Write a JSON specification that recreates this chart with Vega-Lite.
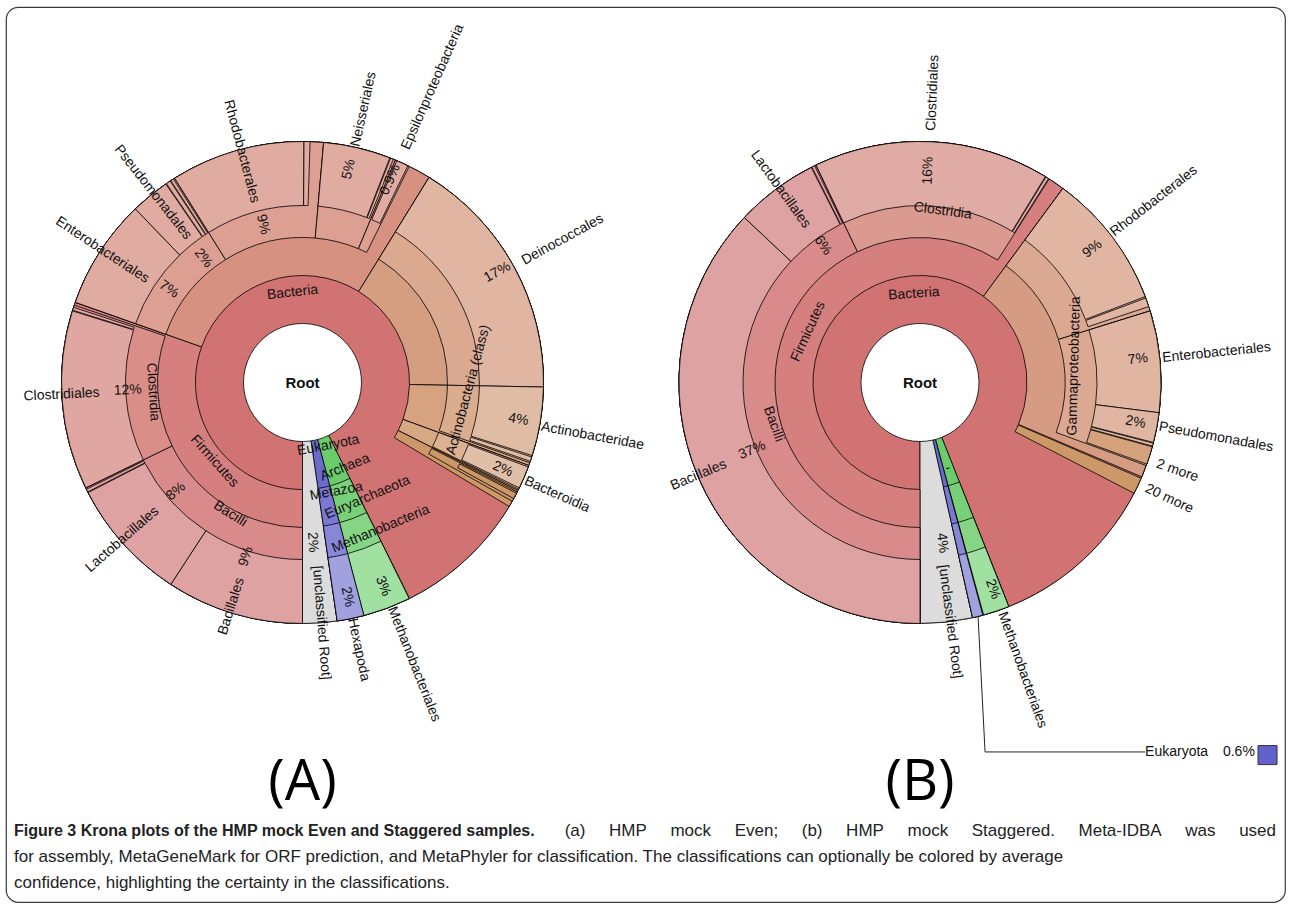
{
  "$schema": "https://vega.github.io/schema/vega-lite/v6.json",
  "width": 1290,
  "height": 905,
  "autosize": {"type": "fit", "contains": "padding"},
  "padding": {"left": 6, "top": 7, "right": 5, "bottom": 3},
  "background": "white",
  "config": {
    "view": {"stroke": "#3a3a3a", "strokeWidth": 1.2, "cornerRadius": 12},
    "text": {"font": "Liberation Sans"}
  },
  "datasets": {
    "nodes": [
      {"panel": "A", "id": "Root", "depth": 0, "outer": 5, "s": 0, "e": 100, "c": "root"},
      {"panel": "A", "id": "Bacteria", "depth": 1, "outer": 5, "s": 0, "e": 92.7, "c": "bac1"},
      {"panel": "A", "id": "Archaea", "depth": 1, "outer": 5, "s": 92.7, "e": 95.9, "c": "arc1"},
      {"panel": "A", "id": "Eukaryota", "depth": 1, "outer": 5, "s": 95.9, "e": 97.7, "c": "euk1"},
      {"panel": "A", "id": "[unclassified Root]", "depth": 1, "outer": 5, "s": 97.7, "e": 100, "c": "unc"},
      {"panel": "A", "id": "Firmicutes", "depth": 2, "outer": 5, "s": 0, "e": 30.4, "c": "fir2"},
      {"panel": "A", "id": "Proteobacteria", "depth": 2, "outer": 5, "s": 30.4, "e": 58.8, "c": "pro2"},
      {"panel": "A", "id": "Deinococcus-Thermus", "depth": 2, "outer": 5, "s": 58.8, "e": 75.3, "c": "dei2"},
      {"panel": "A", "id": "Actinobacteria", "depth": 2, "outer": 5, "s": 75.3, "e": 80.6, "c": "act2"},
      {"panel": "A", "id": "Bacteroidetes", "depth": 2, "outer": 5, "s": 80.6, "e": 82.4, "c": "bct2"},
      {"panel": "A", "id": "other phyla", "depth": 2, "outer": 5, "s": 82.4, "e": 83.6, "c": "hat"},
      {"panel": "A", "id": "Euryarchaeota", "depth": 2, "outer": 5, "s": 92.7, "e": 95.9, "c": "arc2"},
      {"panel": "A", "id": "Metazoa", "depth": 2, "outer": 5, "s": 95.9, "e": 97.7, "c": "euk2"},
      {"panel": "A", "id": "Bacilli", "depth": 3, "outer": 5, "s": 0, "e": 17.8, "c": "fir3"},
      {"panel": "A", "id": "Clostridia", "depth": 3, "outer": 5, "s": 17.8, "e": 30.2, "c": "clo3"},
      {"panel": "A", "id": "Gammaproteobacteria", "depth": 3, "outer": 5, "s": 30.4, "e": 41.1, "c": "pro3"},
      {"panel": "A", "id": "Alphaproteobacteria", "depth": 3, "outer": 5, "s": 41.1, "e": 51.4, "c": "pro3"},
      {"panel": "A", "id": "Betaproteobacteria", "depth": 3, "outer": 5, "s": 51.4, "e": 56.3, "c": "pro3"},
      {"panel": "A", "id": "Epsilonproteobacteria", "depth": 3, "outer": 5, "s": 56.3, "e": 57.3, "c": "pro3"},
      {"panel": "A", "id": "Deinococci", "depth": 3, "outer": 5, "s": 58.8, "e": 75.3, "c": "dei3"},
      {"panel": "A", "id": "Actinobacteria (class)", "depth": 3, "outer": 5, "s": 75.3, "e": 80.4, "c": "act3"},
      {"panel": "A", "id": "Bacteroidia", "depth": 3, "outer": 5, "s": 80.6, "e": 82.3, "c": "bct3"},
      {"panel": "A", "id": "other classes", "depth": 3, "outer": 5, "s": 82.5, "e": 83.2, "c": "hat"},
      {"panel": "A", "id": "Methanobacteria", "depth": 3, "outer": 5, "s": 92.7, "e": 95.9, "c": "arc3"},
      {"panel": "A", "id": "-", "depth": 3, "outer": 5, "s": 95.9, "e": 97.7, "c": "euk3"},
      {"panel": "A", "id": "Bacillales", "depth": 4, "outer": 5, "s": 0, "e": 9.2, "c": "fir4"},
      {"panel": "A", "id": "Lactobacillales", "depth": 4, "outer": 5, "s": 9.2, "e": 17.45, "c": "fir4"},
      {"panel": "A", "id": "other Bacilli", "depth": 4, "outer": 5, "s": 17.5, "e": 17.7, "c": "fir4"},
      {"panel": "A", "id": "Clostridiales", "depth": 4, "outer": 5, "s": 17.8, "e": 29.8, "c": "clo4"},
      {"panel": "A", "id": "other Clostridia", "depth": 4, "outer": 5, "s": 29.85, "e": 30.05, "c": "clo4"},
      {"panel": "A", "id": "Enterobacteriales", "depth": 4, "outer": 5, "s": 30.4, "e": 37.8, "c": "pro4"},
      {"panel": "A", "id": "Pseudomonadales", "depth": 4, "outer": 5, "s": 37.8, "e": 40.4, "c": "pro4"},
      {"panel": "A", "id": "other Gamma", "depth": 4, "outer": 5, "s": 40.45, "e": 40.75, "c": "pro4"},
      {"panel": "A", "id": "other Gamma 2", "depth": 4, "outer": 5, "s": 40.8, "e": 41.0, "c": "pro4"},
      {"panel": "A", "id": "Rhodobacterales", "depth": 4, "outer": 5, "s": 41.1, "e": 50.1, "c": "pro4"},
      {"panel": "A", "id": "other Alpha", "depth": 4, "outer": 5, "s": 50.1, "e": 50.5, "c": "pro4"},
      {"panel": "A", "id": "Neisseriales", "depth": 4, "outer": 5, "s": 51.4, "e": 55.9, "c": "pro4"},
      {"panel": "A", "id": "other Beta", "depth": 4, "outer": 5, "s": 55.95, "e": 56.15, "c": "pro4"},
      {"panel": "A", "id": "Campylobacterales", "depth": 4, "outer": 5, "s": 56.4, "e": 57.2, "c": "pro4"},
      {"panel": "A", "id": "Deinococcales", "depth": 4, "outer": 5, "s": 58.8, "e": 75.3, "c": "dei4"},
      {"panel": "A", "id": "Actinobacteridae", "depth": 4, "outer": 5, "s": 75.3, "e": 79.9, "c": "act4"},
      {"panel": "A", "id": "other Actinobacteria", "depth": 4, "outer": 5, "s": 80.0, "e": 80.3, "c": "act4"},
      {"panel": "A", "id": "Bacteroidales", "depth": 4, "outer": 5, "s": 80.7, "e": 82.2, "c": "bct4"},
      {"panel": "A", "id": "other orders", "depth": 4, "outer": 5, "s": 82.6, "e": 83.0, "c": "hat"},
      {"panel": "A", "id": "Methanobacteriales", "depth": 4, "outer": 5, "s": 92.7, "e": 95.9, "c": "arc4"},
      {"panel": "A", "id": "Hexapoda", "depth": 4, "outer": 5, "s": 95.9, "e": 97.7, "c": "euk4"},

      {"panel": "B", "id": "Root", "depth": 0, "outer": 5, "s": 0, "e": 100, "c": "root"},
      {"panel": "B", "id": "Bacteria", "depth": 1, "outer": 5, "s": 0, "e": 94.0, "c": "bac1"},
      {"panel": "B", "id": "Archaea", "depth": 1, "outer": 5, "s": 94.0, "e": 95.75, "c": "arc1"},
      {"panel": "B", "id": "Eukaryota", "depth": 1, "outer": 5, "s": 95.8, "e": 96.5, "c": "euk1"},
      {"panel": "B", "id": "[unclassified Root]", "depth": 1, "outer": 5, "s": 96.5, "e": 100, "c": "unc"},
      {"panel": "B", "id": "Firmicutes", "depth": 2, "outer": 5, "s": 0, "e": 60.1, "c": "fir2"},
      {"panel": "B", "id": "Proteobacteria", "depth": 2, "outer": 5, "s": 60.1, "e": 81.4, "c": "Bpro2"},
      {"panel": "B", "id": "20 more", "depth": 2, "outer": 5, "s": 81.5, "e": 82.6, "c": "hat"},
      {"panel": "B", "id": "Euryarchaeota", "depth": 2, "outer": 5, "s": 94.0, "e": 95.75, "c": "arc2"},
      {"panel": "B", "id": "Metazoa", "depth": 2, "outer": 5, "s": 95.8, "e": 96.5, "c": "euk2"},
      {"panel": "B", "id": "Bacilli", "depth": 3, "outer": 5, "s": 0, "e": 42.9, "c": "fir3"},
      {"panel": "B", "id": "Clostridia", "depth": 3, "outer": 5, "s": 42.9, "e": 59.0, "c": "Bclo3"},
      {"panel": "B", "id": "Alphaproteobacteria", "depth": 3, "outer": 5, "s": 60.1, "e": 70.2, "c": "Bpro3"},
      {"panel": "B", "id": "Gammaproteobacteria", "depth": 3, "outer": 5, "s": 70.2, "e": 80.6, "c": "Bpro3"},
      {"panel": "B", "id": "Methanobacteria", "depth": 3, "outer": 5, "s": 94.0, "e": 95.75, "c": "arc3"},
      {"panel": "B", "id": "-", "depth": 3, "outer": 5, "s": 95.8, "e": 96.5, "c": "euk3"},
      {"panel": "B", "id": "Bacillales", "depth": 4, "outer": 5, "s": 0, "e": 37.0, "c": "fir4"},
      {"panel": "B", "id": "Lactobacillales", "depth": 4, "outer": 5, "s": 37.0, "e": 42.55, "c": "fir4"},
      {"panel": "B", "id": "other Bacilli", "depth": 4, "outer": 5, "s": 42.6, "e": 42.8, "c": "fir4"},
      {"panel": "B", "id": "Clostridiales", "depth": 4, "outer": 5, "s": 42.9, "e": 58.7, "c": "Bclo4"},
      {"panel": "B", "id": "other Clostridia", "depth": 4, "outer": 5, "s": 58.75, "e": 58.95, "c": "Bclo4"},
      {"panel": "B", "id": "Rhodobacterales", "depth": 4, "outer": 5, "s": 60.1, "e": 69.2, "c": "Bpro4"},
      {"panel": "B", "id": "other Alpha", "depth": 4, "outer": 5, "s": 69.3, "e": 69.9, "c": "Bpro4"},
      {"panel": "B", "id": "Enterobacteriales", "depth": 4, "outer": 5, "s": 70.2, "e": 77.0, "c": "Bpro4"},
      {"panel": "B", "id": "Pseudomonadales", "depth": 4, "outer": 5, "s": 77.0, "e": 79.0, "c": "Bpro4"},
      {"panel": "B", "id": "other Gamma", "depth": 4, "outer": 5, "s": 79.05, "e": 79.25, "c": "Bpro4"},
      {"panel": "B", "id": "2 more", "depth": 4, "outer": 5, "s": 79.3, "e": 80.5, "c": "hat2"},
      {"panel": "B", "id": "Methanobacteriales", "depth": 4, "outer": 5, "s": 94.0, "e": 95.75, "c": "arc4"},
      {"panel": "B", "id": "-", "depth": 4, "outer": 5, "s": 95.8, "e": 96.5, "c": "euk4"}
    ],
    "labels": [
      {"panel": "A", "kind": "t", "txt": "Bacteria", "p": 48.25, "r": 37.6, "o": 48.25},
      {"panel": "A", "kind": "t", "txt": "Firmicutes", "p": 13.4, "r": 49.0, "o": 13.4},
      {"panel": "A", "kind": "t", "txt": "Bacilli", "p": 8.0, "r": 62.2, "o": 9.0},
      {"panel": "A", "kind": "t", "txt": "Clostridia", "p": 24.0, "r": 62.2, "o": 24.0},
      {"panel": "A", "kind": "t", "txt": "Actinobacteria (class)", "p": 75.7, "r": 68.9, "o": 79.2},
      {"panel": "A", "kind": "t", "txt": "Eukaryota", "p": 93.8, "r": 28.2, "o": 97.0},
      {"panel": "A", "kind": "t", "txt": "Archaea", "p": 92.6, "r": 39.4, "o": 94.0},
      {"panel": "A", "kind": "t", "txt": "Metazoa", "p": 95.2, "r": 47.3, "o": 97.1},
      {"panel": "A", "kind": "t", "txt": "Euryarchaeota", "p": 91.8, "r": 54.8, "o": 93.6},
      {"panel": "A", "kind": "t", "txt": "Methanobacteria", "p": 92.2, "r": 68.9, "o": 93.7},
      {"panel": "A", "kind": "r", "txt": "Clostridiales", "p": 24.2, "r": 100.1, "o": 24.2},
      {"panel": "A", "kind": "r", "txt": "12%", "p": 24.3, "r": 72.6, "o": 24.3},
      {"panel": "A", "kind": "r", "txt": "Lactobacillales", "p": 13.6, "r": 99.2, "o": 13.6},
      {"panel": "A", "kind": "r", "txt": "8%", "p": 13.7, "r": 69.3, "o": 13.7},
      {"panel": "A", "kind": "r", "txt": "Bacillales", "p": 4.9, "r": 97.5, "o": 4.9},
      {"panel": "A", "kind": "r", "txt": "9%", "p": 5.0, "r": 75.9, "o": 5.0},
      {"panel": "A", "kind": "r", "txt": "Enterobacteriales", "p": 34.3, "r": 99.6, "o": 34.3},
      {"panel": "A", "kind": "r", "txt": "7%", "p": 34.7, "r": 67.6, "o": 34.7},
      {"panel": "A", "kind": "r", "txt": "Pseudomonadales", "p": 39.4, "r": 100.4, "o": 39.4},
      {"panel": "A", "kind": "r", "txt": "2%", "p": 39.3, "r": 66.0, "o": 39.3},
      {"panel": "A", "kind": "r", "txt": "Rhodobacterales", "p": 45.9, "r": 99.2, "o": 45.9},
      {"panel": "A", "kind": "r", "txt": "9%", "p": 46.1, "r": 67.6, "o": 46.1},
      {"panel": "A", "kind": "r", "txt": "Neisseriales", "p": 53.5, "r": 116.2, "o": 53.5},
      {"panel": "A", "kind": "r", "txt": "5%", "p": 53.4, "r": 90.5, "o": 53.4},
      {"panel": "A", "kind": "r", "txt": "Epsilonproteobacteria", "p": 56.6, "r": 134.0, "o": 56.6},
      {"panel": "A", "kind": "r", "txt": "0.9%", "p": 56.5, "r": 91.7, "o": 56.5},
      {"panel": "A", "kind": "r", "txt": "Deinococcales", "p": 67.0, "r": 123.2, "o": 67.0},
      {"panel": "A", "kind": "r", "txt": "17%", "p": 66.8, "r": 92.9, "o": 66.8},
      {"panel": "A", "kind": "r", "txt": "Actinobacteridae", "p": 77.9, "r": 122.4, "o": 77.9},
      {"panel": "A", "kind": "r", "txt": "4%", "p": 77.7, "r": 90.9, "o": 77.7},
      {"panel": "A", "kind": "r", "txt": "Bacteroidia", "p": 81.6, "r": 115.4, "o": 81.6},
      {"panel": "A", "kind": "r", "txt": "2%", "p": 81.5, "r": 90.5, "o": 81.5},
      {"panel": "A", "kind": "r", "txt": "[unclassified Root]", "p": 98.75, "r": 100.0, "o": 98.75},
      {"panel": "A", "kind": "r", "txt": "2%", "p": 99.0, "r": 66.4, "o": 99.0},
      {"panel": "A", "kind": "r", "txt": "Hexapoda", "p": 96.7, "r": 113.3, "o": 96.7},
      {"panel": "A", "kind": "r", "txt": "2%", "p": 96.7, "r": 90.9, "o": 96.7},
      {"panel": "A", "kind": "r", "txt": "Methanobacteriales", "p": 94.0, "r": 125.7, "o": 94.0},
      {"panel": "A", "kind": "r", "txt": "3%", "p": 94.0, "r": 90.9, "o": 94.0},

      {"panel": "B", "kind": "t", "txt": "Bacteria", "p": 48.9, "r": 36.9, "o": 48.9},
      {"panel": "B", "kind": "t", "txt": "Firmicutes", "p": 31.8, "r": 51.0, "o": 31.8},
      {"panel": "B", "kind": "t", "txt": "Bacilli", "p": 20.6, "r": 63.1, "o": 19.5},
      {"panel": "B", "kind": "t", "txt": "Clostridia", "p": 52.1, "r": 71.8, "o": 52.1},
      {"panel": "B", "kind": "t", "txt": "Gammaproteobacteria", "p": 73.3, "r": 64.3, "o": 75.4},
      {"panel": "B", "kind": "t", "txt": "-", "p": 95.0, "r": 37.3, "o": 94.9},
      {"panel": "B", "kind": "r", "txt": "Clostridiales", "p": 50.7, "r": 120.3, "o": 50.7},
      {"panel": "B", "kind": "r", "txt": "16%", "p": 50.6, "r": 88.0, "o": 50.6},
      {"panel": "B", "kind": "r", "txt": "Lactobacillales", "p": 40.05, "r": 98.8, "o": 40.05},
      {"panel": "B", "kind": "r", "txt": "6%", "p": 40.2, "r": 69.7, "o": 40.2},
      {"panel": "B", "kind": "r", "txt": "Bacillales", "p": 18.7, "r": 99.6, "o": 18.7},
      {"panel": "B", "kind": "r", "txt": "37%", "p": 18.9, "r": 75.1, "o": 18.9},
      {"panel": "B", "kind": "r", "txt": "Rhodobacterales", "p": 64.5, "r": 122.8, "o": 64.5},
      {"panel": "B", "kind": "r", "txt": "9%", "p": 64.5, "r": 90.5, "o": 64.5},
      {"panel": "B", "kind": "r", "txt": "Enterobacteriales", "p": 73.4, "r": 123.7, "o": 73.4},
      {"panel": "B", "kind": "r", "txt": "7%", "p": 73.3, "r": 90.9, "o": 73.3},
      {"panel": "B", "kind": "r", "txt": "Pseudomonadales", "p": 77.9, "r": 124.9, "o": 77.9},
      {"panel": "B", "kind": "r", "txt": "2%", "p": 77.9, "r": 90.9, "o": 77.9},
      {"panel": "B", "kind": "r", "txt": "2 more", "p": 80.25, "r": 112.9, "o": 80.25},
      {"panel": "B", "kind": "r", "txt": "20 more", "p": 81.95, "r": 114.1, "o": 81.95},
      {"panel": "B", "kind": "r", "txt": "Methanobacteriales", "p": 94.55, "r": 126.6, "o": 94.55},
      {"panel": "B", "kind": "r", "txt": "2%", "p": 94.6, "r": 90.9, "o": 94.6},
      {"panel": "B", "kind": "r", "txt": "[unclassified Root]", "p": 98.0, "r": 100.0, "o": 98.0},
      {"panel": "B", "kind": "r", "txt": "4%", "p": 97.8, "r": 67.2, "o": 97.8}
    ],
    "centers": [
      {"panel": "A", "txt": "Root"},
      {"panel": "B", "txt": "Root"}
    ],
    "tags": [
      {"panel": "A", "txt": "(A)", "p": 0, "r": 173.4},
      {"panel": "B", "txt": "(B)", "p": 0, "r": 173.4}
    ],
    "leader": [
      {"k": 1, "cx": 0.241, "cy": 0.973},
      {"k": 2, "cx": 0.270, "cy": 1.533},
      {"k": 3, "cx": 0.934, "cy": 1.533}
    ],
    "callout": [
      {"txt": "Eukaryota", "cx": 0.934, "cy": 1.533},
      {"txt": "0.6%", "cx": 1.257, "cy": 1.533}
    ],
    "swatch": [
      {"name": "Eukaryota", "cx": 1.442, "cy": 1.546}
    ],
    "caption": [
      {"line": 1, "anchor": "L", "w": "b", "txt": "Figure 3 Krona plots of the HMP mock Even and Staggered samples."},
      {"line": 1, "anchor": "R", "w": "n", "txt": "(a)\u00a0\u00a0\u00a0\u00a0 HMP\u00a0\u00a0\u00a0\u00a0 mock\u00a0\u00a0\u00a0\u00a0 Even;\u00a0\u00a0\u00a0\u00a0 (b)\u00a0\u00a0\u00a0\u00a0 HMP\u00a0\u00a0\u00a0\u00a0 mock\u00a0\u00a0\u00a0\u00a0 Staggered.\u00a0\u00a0\u00a0\u00a0 Meta-IDBA\u00a0\u00a0\u00a0\u00a0 was\u00a0\u00a0\u00a0\u00a0 used"},
      {"line": 2, "anchor": "L", "w": "n", "txt": "for assembly, MetaGeneMark for ORF prediction, and MetaPhyler for classification. The classifications can optionally be colored by average"},
      {"line": 3, "anchor": "L", "w": "n", "txt": "confidence, highlighting the certainty in the classifications."}
    ]
  },
  "resolve": {"scale": {"x": "independent", "y": "independent", "theta": "independent", "radius": "independent", "angle": "independent"}},
  "layer": [
    {
      "data": {"name": "nodes"},
      "mark": {"type": "arc", "stroke": "#000000", "strokeWidth": 0.8},
      "encoding": {
        "x": {"field": "panel", "type": "nominal", "axis": null, "scale": {"type": "point", "domain": ["A", "B"], "range": [296.5, 914], "padding": 0}},
        "y": {"field": "panel", "type": "nominal", "axis": null, "scale": {"type": "point", "domain": ["A", "B"], "range": [375.5, 375.5], "padding": 0}},
        "theta": {"field": "s", "type": "quantitative", "scale": {"type": "linear", "domain": [0, 100], "range": [3.14159265, 9.42477796], "zero": false, "nice": false}},
        "theta2": {"field": "e"},
        "radius": {"field": "outer", "type": "quantitative", "scale": {"type": "linear", "domain": [0, 1, 2, 3, 4, 5], "range": [0, 59, 107, 145, 177, 241], "zero": false, "nice": false}},
        "radius2": {"field": "depth"},
        "color": {
          "field": "c", "type": "nominal", "legend": null,
          "scale": {
            "domain": ["root", "unc", "bac1", "fir2", "fir3", "clo3", "fir4", "clo4", "pro2", "pro3", "pro4", "dei2", "dei3", "dei4", "act2", "act3", "act4", "bct2", "bct3", "bct4", "hat", "hat2", "arc1", "arc2", "arc3", "arc4", "euk1", "euk2", "euk3", "euk4", "Bpro2", "Bpro3", "Bpro4", "Bclo3", "Bclo4"],
            "range": ["#ffffff", "#dcdcdc", "#d17373", "#d57f7f", "#d98b8b", "#d98e88", "#dfa2a2", "#e0a7a2", "#d79180", "#dc9f91", "#e0aca1", "#d59e80", "#daa990", "#e0b5a1", "#d6a27f", "#dbad8f", "#e0bca5", "#d7a881", "#dcb292", "#e0bfa8", "#cd9867", "#d6a27c", "#6bcc6b", "#78d078", "#85d585", "#a0e0a0", "#6b6bcf", "#7979d3", "#8787d7", "#a1a1e0", "#d69b83", "#dba892", "#e0b6a2", "#db9a90", "#e0aba4"]
          }
        }
      }
    },
    {
      "data": {"name": "labels"},
      "transform": [{"filter": "datum.kind === 't'"}],
      "mark": {"type": "text", "fontSize": 14, "align": "center", "baseline": "middle", "fill": "#111111"},
      "encoding": {
        "x": {"field": "panel", "type": "nominal", "axis": null, "scale": {"type": "point", "domain": ["A", "B"], "range": [296.5, 914], "padding": 0}},
        "y": {"field": "panel", "type": "nominal", "axis": null, "scale": {"type": "point", "domain": ["A", "B"], "range": [375.5, 375.5], "padding": 0}},
        "theta": {"field": "p", "type": "quantitative", "scale": {"type": "linear", "domain": [0, 100], "range": [3.14159265, 9.42477796], "zero": false, "nice": false}},
        "radius": {"field": "r", "type": "quantitative", "scale": {"type": "linear", "domain": [0, 100], "range": [0, 241], "zero": false, "nice": false}},
        "angle": {"field": "o", "type": "quantitative", "scale": {"type": "linear", "domain": [0, 25, 25.001, 75, 75.001, 100], "range": [0, 90, -89.9964, 90, 270.0036, 360], "zero": false, "nice": false}},
        "text": {"field": "txt", "type": "nominal"}
      }
    },
    {
      "data": {"name": "labels"},
      "transform": [{"filter": "datum.kind === 'r'"}],
      "mark": {"type": "text", "fontSize": 14, "align": "center", "baseline": "middle", "fill": "#111111"},
      "encoding": {
        "x": {"field": "panel", "type": "nominal", "axis": null, "scale": {"type": "point", "domain": ["A", "B"], "range": [296.5, 914], "padding": 0}},
        "y": {"field": "panel", "type": "nominal", "axis": null, "scale": {"type": "point", "domain": ["A", "B"], "range": [375.5, 375.5], "padding": 0}},
        "theta": {"field": "p", "type": "quantitative", "scale": {"type": "linear", "domain": [0, 100], "range": [3.14159265, 9.42477796], "zero": false, "nice": false}},
        "radius": {"field": "r", "type": "quantitative", "scale": {"type": "linear", "domain": [0, 100], "range": [0, 241], "zero": false, "nice": false}},
        "angle": {"field": "o", "type": "quantitative", "scale": {"type": "linear", "domain": [0, 50, 50.001, 100], "range": [-90, 90, 270.0036, 450], "zero": false, "nice": false}},
        "text": {"field": "txt", "type": "nominal"}
      }
    },
    {
      "data": {"name": "centers"},
      "mark": {"type": "text", "fontSize": 15, "fontWeight": "bold", "align": "center", "baseline": "middle", "fill": "#111111"},
      "encoding": {
        "x": {"field": "panel", "type": "nominal", "axis": null, "scale": {"type": "point", "domain": ["A", "B"], "range": [296.5, 914], "padding": 0}},
        "y": {"field": "panel", "type": "nominal", "axis": null, "scale": {"type": "point", "domain": ["A", "B"], "range": [375.5, 375.5], "padding": 0}},
        "text": {"field": "txt", "type": "nominal"}
      }
    },
    {
      "data": {"name": "tags"},
      "mark": {"type": "text", "fontSize": 56, "font": "Open Sans", "align": "center", "baseline": "alphabetic", "fill": "#000000"},
      "encoding": {
        "x": {"field": "panel", "type": "nominal", "axis": null, "scale": {"type": "point", "domain": ["A", "B"], "range": [296.5, 914], "padding": 0}},
        "y": {"field": "panel", "type": "nominal", "axis": null, "scale": {"type": "point", "domain": ["A", "B"], "range": [375.5, 375.5], "padding": 0}},
        "theta": {"field": "p", "type": "quantitative", "scale": {"type": "linear", "domain": [0, 100], "range": [3.14159265, 9.42477796], "zero": false, "nice": false}},
        "radius": {"field": "r", "type": "quantitative", "scale": {"type": "linear", "domain": [0, 100], "range": [0, 241], "zero": false, "nice": false}},
        "text": {"field": "txt", "type": "nominal"}
      }
    },
    {
      "data": {"name": "leader"},
      "mark": {"type": "line", "stroke": "#222222", "strokeWidth": 1},
      "encoding": {
        "x": {"field": "cx", "type": "quantitative", "axis": null, "scale": {"domain": [-1, 1], "range": [673, 1155], "zero": false, "nice": false}},
        "y": {"field": "cy", "type": "quantitative", "axis": null, "scale": {"domain": [-1, 1], "range": [134.5, 616.5], "zero": false, "nice": false}},
        "order": {"field": "k", "type": "quantitative"}
      }
    },
    {
      "data": {"name": "callout"},
      "mark": {"type": "text", "fontSize": 14, "align": "left", "baseline": "middle", "fill": "#111111"},
      "encoding": {
        "x": {"field": "cx", "type": "quantitative", "axis": null, "scale": {"domain": [-1, 1], "range": [673, 1155], "zero": false, "nice": false}},
        "y": {"field": "cy", "type": "quantitative", "axis": null, "scale": {"domain": [-1, 1], "range": [134.5, 616.5], "zero": false, "nice": false}},
        "text": {"field": "txt", "type": "nominal"}
      }
    },
    {
      "data": {"name": "swatch"},
      "mark": {"type": "square", "size": 361, "filled": true, "fill": "#6262cc", "stroke": "#333333", "strokeWidth": 1, "opacity": 1},
      "encoding": {
        "x": {"field": "cx", "type": "quantitative", "axis": null, "scale": {"domain": [-1, 1], "range": [673, 1155], "zero": false, "nice": false}},
        "y": {"field": "cy", "type": "quantitative", "axis": null, "scale": {"domain": [-1, 1], "range": [134.5, 616.5], "zero": false, "nice": false}}
      }
    },
    {
      "data": {"name": "caption"},
      "transform": [{"filter": "datum.w === 'b'"}],
      "mark": {"type": "text", "font": "Liberation Sans", "fontSize": 16, "fontWeight": "bold", "align": "left", "baseline": "middle", "fill": "#222222"},
      "encoding": {
        "x": {"field": "anchor", "type": "nominal", "axis": null, "scale": {"type": "point", "domain": ["L", "R"], "range": [8, 1270], "padding": 0}},
        "y": {"field": "line", "type": "ordinal", "axis": null, "scale": {"type": "point", "domain": [1, 2, 3], "range": [824, 876], "padding": 0}},
        "text": {"field": "txt", "type": "nominal"}
      }
    },
    {
      "data": {"name": "caption"},
      "transform": [{"filter": "datum.w === 'n' && datum.anchor === 'L'"}],
      "mark": {"type": "text", "font": "Liberation Sans", "fontSize": 17, "align": "left", "baseline": "middle", "fill": "#222222"},
      "encoding": {
        "x": {"field": "anchor", "type": "nominal", "axis": null, "scale": {"type": "point", "domain": ["L", "R"], "range": [8, 1270], "padding": 0}},
        "y": {"field": "line", "type": "ordinal", "axis": null, "scale": {"type": "point", "domain": [1, 2, 3], "range": [824, 876], "padding": 0}},
        "text": {"field": "txt", "type": "nominal"}
      }
    },
    {
      "data": {"name": "caption"},
      "transform": [{"filter": "datum.anchor === 'R'"}],
      "mark": {"type": "text", "font": "Liberation Sans", "fontSize": 17, "align": "right", "baseline": "middle", "fill": "#222222"},
      "encoding": {
        "x": {"field": "anchor", "type": "nominal", "axis": null, "scale": {"type": "point", "domain": ["L", "R"], "range": [8, 1270], "padding": 0}},
        "y": {"field": "line", "type": "ordinal", "axis": null, "scale": {"type": "point", "domain": [1, 2, 3], "range": [824, 876], "padding": 0}},
        "text": {"field": "txt", "type": "nominal"}
      }
    }
  ]
}
